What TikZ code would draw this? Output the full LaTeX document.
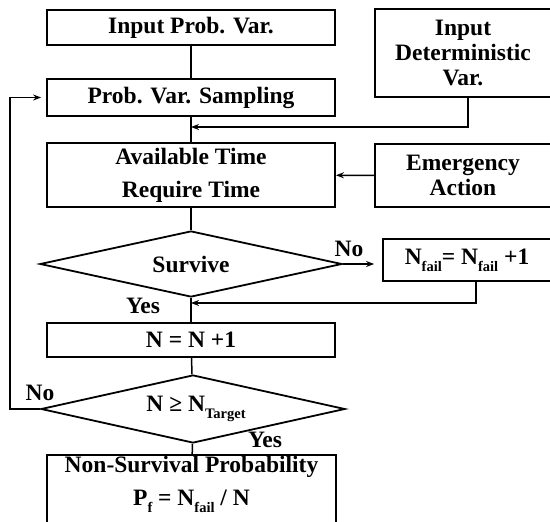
\documentclass[tikz,border=0pt]{standalone}
\usepackage{fontspec}
\setmainfont{Liberation Serif}
\usetikzlibrary{shapes.geometric,arrows.meta}
\newcommand\mysub[1]{\raisebox{-0.3em}{\fontsize{14.5}{14.5}\selectfont\bfseries #1}}
\begin{document}
\begin{tikzpicture}[x=1pt,y=-1pt,
  txt/.style={align=center,inner sep=0,font=\bfseries\fontsize{23.5}{25}\selectfont},
  box/.style={txt,draw,line width=1.8pt},
  dec/.style={txt,draw,diamond,aspect=4.5,line width=1.8pt},
  conn/.style={line width=1.5pt},
  arr/.style={conn,-{Stealth[length=8pt,width=6pt]}}]
\useasboundingbox (0,0) rectangle (550,522);
\clip (0,0) rectangle (550,522);
% boxes
\node[box,minimum width=288pt,minimum height=35pt] (in) at (191,27.5) {Input Prob. Var.};
\node[box,minimum width=176pt,minimum height=88pt] (det) at (463,53) {Input\\Deterministic\\Var.};
\node[box,minimum width=288pt,minimum height=37pt] (samp) at (191,97.5) {Prob. Var. Sampling};
\node[box,minimum width=288pt,minimum height=64pt] (avail) at (191,175) {Available Time\\[8pt]Require Time};
\node[box,minimum width=176pt,minimum height=63pt] (emer) at (463,175.5) {Emergency\\Action};
\node[dec,minimum width=302pt,minimum height=66pt] (surv) at (191,264) {Survive};
\node[box,minimum width=168pt,minimum height=42pt] (nf) at (467,260) {N\mysub{fail}= N\mysub{fail} +1};
\node[box,minimum width=288pt,minimum height=34pt] (inc) at (191,340) {N = N +1};
\node[dec,minimum width=304pt,minimum height=68pt] (tgt) at (193,409) {\hspace*{6pt}N ≥ N\mysub{Target}};
\node[box,minimum width=289pt,minimum height=80pt] (ns) at (191.5,495) {};
\node[txt] (nst) at (191.5,484) {Non-Survival Probability\\[8pt]P\mysub{f} = N\mysub{fail} / N};
% labels
\node[txt] (no1) at (349,249) {No};
\node[txt] (yes1) at (143,306) {Yes};
\node[txt] (no2) at (40,393) {No};
\node[txt] (yes2) at (265,440) {Yes};
% junctions
\coordinate (dj) at (468,127);
\coordinate (fj) at (476,303);
\coordinate (lj) at (10,95);
% connectors
\draw[conn] (in) -- (samp);
\draw[arr] (det.south -| dj) |- (samp.south |- dj);
\draw[conn] (samp) -- (avail);
\draw[arr] (emer) -- (avail);
\draw[conn] (avail) -- (surv);
\draw[arr,shorten >=8pt] (surv.east) -- (surv.east -| nf.west);
\draw[arr] (nf.south -| fj) |- (surv.south |- fj);
\draw[conn] (surv) -- (inc);
\draw[conn] (inc) -- (tgt);
\draw[conn] (tgt) -- (ns);
\draw[arr,shorten >=5pt] (tgt.west) -- (tgt.west -| lj) |- (samp.west);
\end{tikzpicture}
\end{document}
